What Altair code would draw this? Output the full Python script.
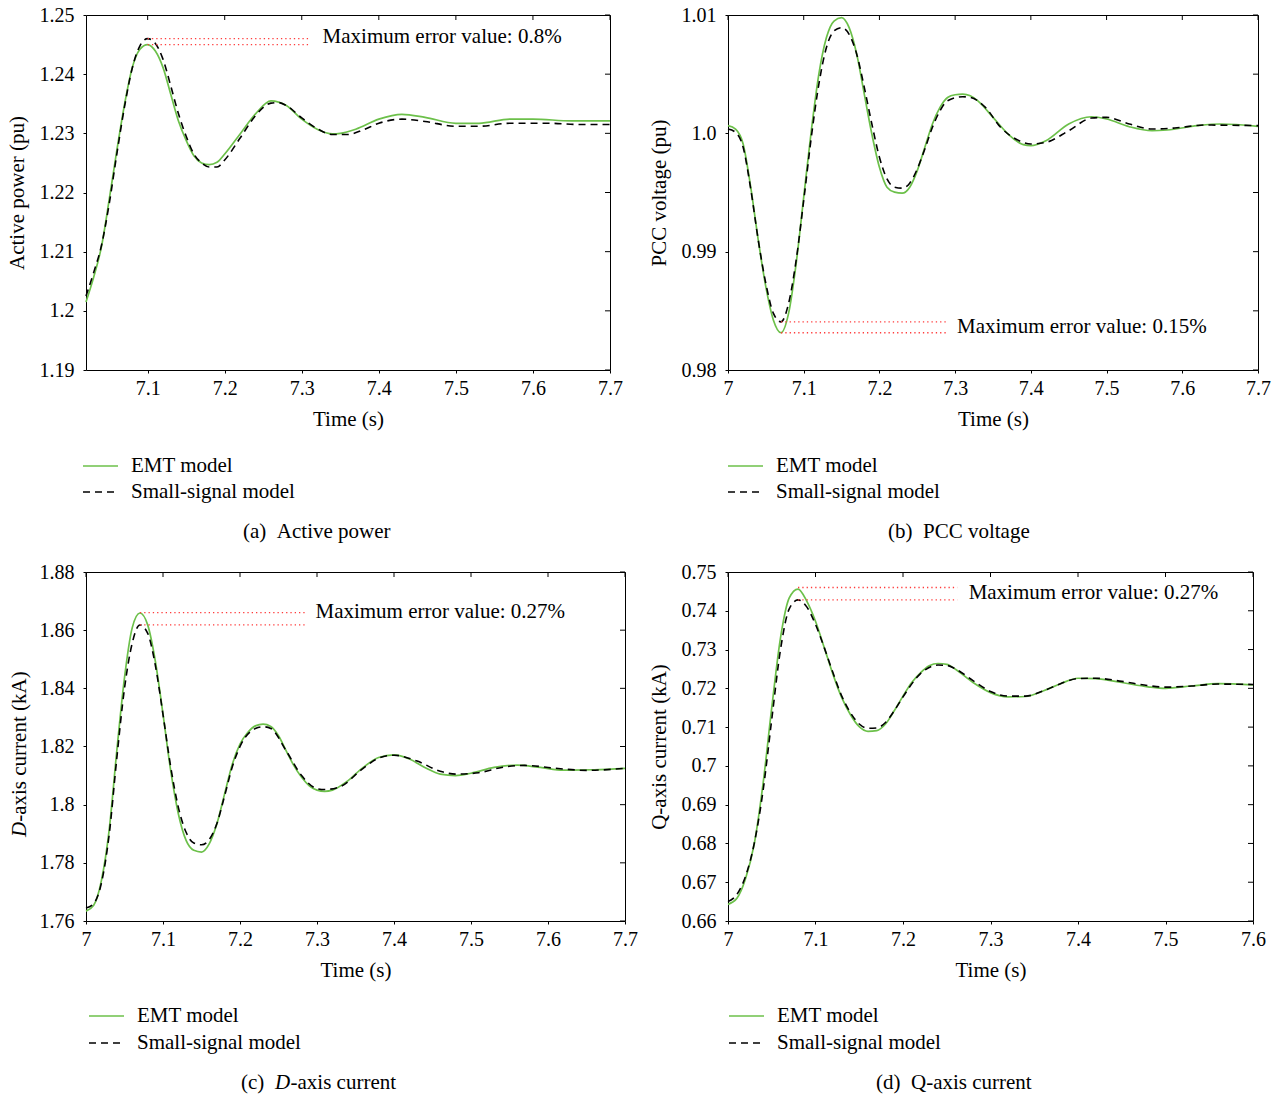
import altair as alt
import pandas as pd

FONT = "Liberation Serif"
GREEN = "#6cc04a"
RED = "#ff3b3b"
FS = 21      # annotation, legend, caption and axis-title size
LFS = 20     # tick label size

# ---------------- (a) Active power ----------------
a_t_emt = [7.02, 7.03, 7.04, 7.05, 7.06, 7.07, 7.08, 7.09, 7.10, 7.11, 7.12, 7.13, 7.14, 7.15, 7.16,
           7.17, 7.18, 7.19, 7.20, 7.22, 7.24, 7.26, 7.28, 7.30, 7.32, 7.34, 7.35, 7.37, 7.40, 7.43,
           7.46, 7.50, 7.53, 7.57, 7.60, 7.65, 7.70]
a_v_emt = [1.2015, 1.2057, 1.2108, 1.2187, 1.2271, 1.2349, 1.2411, 1.2442, 1.2450, 1.2439, 1.2411,
           1.2366, 1.2321, 1.2288, 1.2262, 1.2250, 1.2247, 1.2251, 1.2265, 1.2299, 1.2333, 1.2355,
           1.2347, 1.2324, 1.2307, 1.2299, 1.2300, 1.2307, 1.2324, 1.2332, 1.2327, 1.2317, 1.2317,
           1.2324, 1.2324, 1.2321, 1.2321]
a_t_ss = [7.02, 7.03, 7.04, 7.05, 7.06, 7.07, 7.08, 7.09, 7.10, 7.11, 7.12, 7.13, 7.14, 7.15, 7.16,
          7.17, 7.18, 7.19, 7.20, 7.22, 7.24, 7.26, 7.27, 7.28, 7.30, 7.32, 7.34, 7.36, 7.38, 7.40,
          7.43, 7.46, 7.50, 7.53, 7.57, 7.62, 7.66, 7.70]
a_v_ss = [1.2025, 1.2065, 1.2110, 1.2180, 1.2265, 1.2345, 1.2410, 1.2448, 1.2460, 1.2452, 1.2425,
          1.2380, 1.2333, 1.2295, 1.2265, 1.2250, 1.2243, 1.2243, 1.2255, 1.2292, 1.2330, 1.2351,
          1.2352, 1.2347, 1.2326, 1.2308, 1.2298, 1.2298, 1.2306, 1.2317, 1.2324, 1.2320, 1.2312,
          1.2312, 1.2317, 1.2317, 1.2315, 1.2315]
a_xticks = [7.1, 7.2, 7.3, 7.4, 7.5, 7.6, 7.7]
a_yticks = [1.19, 1.2, 1.21, 1.22, 1.23, 1.24, 1.25]

# ---------------- (b) PCC voltage ----------------
b_t_emt = [7.00, 7.01, 7.02, 7.03, 7.04, 7.05, 7.06, 7.07, 7.08, 7.09, 7.10, 7.11, 7.12, 7.13, 7.14,
           7.15, 7.16, 7.17, 7.18, 7.19, 7.20, 7.21, 7.22, 7.23, 7.24, 7.25, 7.26, 7.27, 7.28, 7.29,
           7.30, 7.31, 7.32, 7.33, 7.35, 7.37, 7.39, 7.40, 7.42, 7.45, 7.48, 7.50, 7.53, 7.56, 7.58,
           7.62, 7.65, 7.70]
b_v_emt = [1.00065, 1.00036, 0.99910, 0.99545, 0.99096, 0.98702, 0.98421, 0.98315, 0.98478, 0.98899,
           0.99461, 1.00022, 1.00500, 1.00809, 1.00949, 1.00978, 1.00893, 1.00669, 1.00331, 0.99994,
           0.99713, 0.99545, 0.99503, 0.99494, 0.99545, 0.99685, 0.99882, 1.00079, 1.00219, 1.00303,
           1.00326, 1.00331, 1.00317, 1.00275, 1.00135, 0.99994, 0.99904, 0.99896, 0.99938, 1.00079,
           1.00140, 1.00121, 1.00056, 1.00022, 1.00028, 1.00065, 1.00079, 1.00059]
b_t_ss = [7.00, 7.01, 7.02, 7.03, 7.04, 7.05, 7.06, 7.07, 7.08, 7.09, 7.10, 7.11, 7.12, 7.13, 7.14,
          7.15, 7.16, 7.17, 7.18, 7.19, 7.20, 7.21, 7.22, 7.23, 7.24, 7.25, 7.26, 7.27, 7.28, 7.29,
          7.31, 7.32, 7.34, 7.36, 7.38, 7.40, 7.42, 7.45, 7.48, 7.50, 7.53, 7.56, 7.59, 7.63, 7.70]
b_v_ss = [1.00036, 1.00008, 0.99882, 0.99531, 0.99096, 0.98730, 0.98478, 0.98407, 0.98562, 0.98927,
          0.99433, 0.99966, 1.00416, 1.00725, 1.00865, 1.00893, 1.00837, 1.00669, 1.00388, 1.00079,
          0.99798, 0.99615, 0.99545, 0.99537, 0.99579, 0.99699, 0.99868, 1.00051, 1.00191, 1.00275,
          1.00309, 1.00303, 1.00219, 1.00051, 0.99952, 0.99910, 0.99924, 1.00022, 1.00129, 1.00135,
          1.00079, 1.00036, 1.00045, 1.00070, 1.00065]
b_xticks = [7.0, 7.1, 7.2, 7.3, 7.4, 7.5, 7.6, 7.7]
b_ylabels = [0.98, 0.99, 1.0, 1.01]
b_yticks = [0.98, 0.985, 0.99, 0.995, 1.0, 1.005, 1.01]

# ---------------- (c) D-axis current ----------------
c_t_emt = [7.00, 7.01, 7.02, 7.03, 7.04, 7.05, 7.06, 7.07, 7.08, 7.09, 7.10, 7.11, 7.12, 7.13, 7.14,
           7.15, 7.16, 7.17, 7.18, 7.19, 7.20, 7.21, 7.22, 7.23, 7.24, 7.25, 7.26, 7.27, 7.28, 7.29,
           7.30, 7.31, 7.32, 7.34, 7.36, 7.38, 7.40, 7.42, 7.44, 7.46, 7.48, 7.50, 7.53, 7.56, 7.59,
           7.62, 7.66, 7.70]
c_v_emt = [1.7634, 1.7654, 1.7739, 1.7911, 1.8185, 1.8437, 1.8608, 1.8659, 1.8619, 1.8494, 1.8311,
           1.8117, 1.7968, 1.7877, 1.7843, 1.7837, 1.7865, 1.7934, 1.8037, 1.8139, 1.8208, 1.8248,
           1.8271, 1.8277, 1.8269, 1.8237, 1.8185, 1.8134, 1.8094, 1.8065, 1.8050, 1.8046, 1.8050,
           1.8082, 1.8128, 1.8162, 1.8171, 1.8157, 1.8128, 1.8105, 1.8100, 1.8108, 1.8128, 1.8136,
           1.8128, 1.8119, 1.8120, 1.8125]
c_t_ss = [7.00, 7.01, 7.02, 7.03, 7.04, 7.05, 7.06, 7.07, 7.08, 7.09, 7.10, 7.11, 7.12, 7.13, 7.14,
          7.15, 7.16, 7.17, 7.18, 7.19, 7.20, 7.22, 7.23, 7.24, 7.26, 7.28, 7.30, 7.31, 7.33, 7.36,
          7.38, 7.40, 7.43, 7.46, 7.48, 7.51, 7.54, 7.57, 7.61, 7.65, 7.70]
c_v_ss = [1.7645, 1.7660, 1.7730, 1.7895, 1.8160, 1.8400, 1.8555, 1.8618, 1.8590, 1.8480, 1.8310,
          1.8130, 1.7990, 1.7905, 1.7868, 1.7862, 1.7880, 1.7935, 1.8030, 1.8130, 1.8200, 1.8262,
          1.8268, 1.8262, 1.8185, 1.8100, 1.8055, 1.8052, 1.8062, 1.8125, 1.8160, 1.8170, 1.8150,
          1.8115, 1.8105, 1.8110, 1.8128, 1.8135, 1.8125, 1.8118, 1.8125]
c_xticks = [7.0, 7.1, 7.2, 7.3, 7.4, 7.5, 7.6, 7.7]
c_yticks = [1.76, 1.78, 1.8, 1.82, 1.84, 1.86, 1.88]

# ---------------- (d) Q-axis current ----------------
d_t_emt = [7.00, 7.01, 7.02, 7.03, 7.04, 7.05, 7.06, 7.07, 7.08, 7.09, 7.10, 7.11, 7.12, 7.13, 7.14,
           7.15, 7.16, 7.17, 7.18, 7.19, 7.20, 7.21, 7.22, 7.23, 7.24, 7.25, 7.26, 7.28, 7.30, 7.32,
           7.34, 7.36, 7.38, 7.40, 7.42, 7.45, 7.48, 7.50, 7.53, 7.56, 7.60]
d_v_emt = [0.6643, 0.6658, 0.6709, 0.6799, 0.6953, 0.7150, 0.7330, 0.7433, 0.7456, 0.7425, 0.7373,
           0.7305, 0.7236, 0.7176, 0.7132, 0.7101, 0.7089, 0.7091, 0.7108, 0.7142, 0.7180, 0.7215,
           0.7240, 0.7258, 0.7264, 0.7262, 0.7249, 0.7215, 0.7189, 0.7178, 0.7179, 0.7193, 0.7212,
           0.7226, 0.7225, 0.7215, 0.7204, 0.7200, 0.7206, 0.7212, 0.7209]
d_t_ss = [7.00, 7.01, 7.02, 7.03, 7.04, 7.05, 7.06, 7.07, 7.08, 7.09, 7.10, 7.11, 7.12, 7.13, 7.14,
          7.15, 7.16, 7.17, 7.18, 7.19, 7.20, 7.22, 7.24, 7.25, 7.26, 7.28, 7.30, 7.32, 7.34, 7.36,
          7.38, 7.40, 7.42, 7.45, 7.48, 7.50, 7.53, 7.56, 7.60]
d_v_ss = [0.6650, 0.6668, 0.6715, 0.6800, 0.6935, 0.7120, 0.7300, 0.7405, 0.7428, 0.7410, 0.7365,
          0.7305, 0.7240, 0.7180, 0.7137, 0.7108, 0.7097, 0.7098, 0.7112, 0.7142, 0.7178, 0.7238,
          0.7260, 0.7259, 0.7250, 0.7220, 0.7192, 0.7180, 0.7180, 0.7193, 0.7212, 0.7225, 0.7226,
          0.7218, 0.7207, 0.7203, 0.7206, 0.7211, 0.7210]
d_xticks = [7.0, 7.1, 7.2, 7.3, 7.4, 7.5, 7.6]
d_yticks = [0.66, 0.67, 0.68, 0.69, 0.7, 0.71, 0.72, 0.73, 0.74, 0.75]

# ---------------- annotations ----------------
a_err_y = [1.2460, 1.2450]
a_err_x = [7.10, 7.31]
a_err_text = ("Maximum error value: 0.8%", 7.327, 1.2463)
b_err_y = [0.98407, 0.98315]
b_err_x = [7.07, 7.29]
b_err_text = ("Maximum error value: 0.15%", 7.3025, 0.98363)
c_err_y = [1.8660, 1.8618]
c_err_x = [7.07, 7.285]
c_err_text = ("Maximum error value: 0.27%", 7.298, 1.8662)
d_err_y = [0.7460, 0.7428]
d_err_x = [7.08, 7.262]
d_err_text = ("Maximum error value: 0.27%", 7.275, 0.7446)

series_labels = ["EMT model", "Small-signal model"]

dummy = pd.DataFrame({"k": [0]})


def text_value(s, x, y, italic=False, angle=None, align="left"):
    kw = dict(align=align, baseline="middle", font=FONT, fontSize=FS, color="black")
    if italic:
        kw["fontStyle"] = "italic"
    if angle is not None:
        kw["angle"] = angle
    return alt.Chart(dummy).mark_text(**kw).encode(
        x=alt.value(x), y=alt.value(y), text=alt.value(s))


def panel(p):
    w, h = p["w"], p["h"]
    xs = alt.Scale(domain=p["xdom"], nice=False, zero=False)
    ys = alt.Scale(domain=p["ydom"], nice=False, zero=False)
    xaxis = alt.Axis(values=p["xticks"], format=".1~f", title="Time (s)", grid=False,
                     domain=False, tickSize=3, tickColor="black", labelFont=FONT,
                     labelFontSize=LFS, labelColor="black", labelPadding=5,
                     labelOverlap=False, labelFlush=False,
                     titleFont=FONT, titleFontSize=FS, titleFontWeight="normal",
                     titleColor="black", titlePadding=10)
    ykw = dict(values=p["ylabels"], grid=False, domain=False, tickSize=3,
               tickColor="black", labelFont=FONT, labelFontSize=LFS, labelColor="black",
               labelPadding=9, labelOverlap=False, labelFlush=False,
               titleFont=FONT, titleFontSize=FS, titleFontWeight="normal",
               titleColor="black", titlePadding=12, title=p["ytitle"])
    if "labelExpr" in p:
        ykw["labelExpr"] = p["labelExpr"]
    else:
        ykw["format"] = "~g"
    yaxis = alt.Axis(**ykw)

    emt = alt.Chart(pd.DataFrame({"t": p["t_emt"], "v": p["v_emt"]})).mark_line(
        color=GREEN, strokeWidth=1.7, interpolate="monotone").encode(
        x=alt.X("t:Q", scale=xs, axis=xaxis), y=alt.Y("v:Q", scale=ys, axis=yaxis))
    ss = alt.Chart(pd.DataFrame({"t": p["t_ss"], "v": p["v_ss"]})).mark_line(
        color="black", strokeWidth=1.6, strokeDash=[7, 5], interpolate="monotone").encode(
        x=alt.X("t:Q", scale=xs, axis=xaxis), y=alt.Y("v:Q", scale=ys, axis=yaxis))

    err = alt.Chart(pd.DataFrame({"x1": [p["err_x"][0]] * 2, "x2": [p["err_x"][1]] * 2,
                                  "y": p["err_y"]})).mark_rule(
        color=RED, strokeWidth=1.3, strokeDash=[1.3, 3]).encode(
        x=alt.X("x1:Q", scale=xs, axis=xaxis), x2="x2:Q",
        y=alt.Y("y:Q", scale=ys, axis=yaxis))
    s, tx, ty = p["err_text"]
    err_txt = alt.Chart(pd.DataFrame({"x": [tx], "y": [ty], "s": [s]})).mark_text(
        align="left", baseline="middle", font=FONT, fontSize=FS, color="black").encode(
        x=alt.X("x:Q", scale=xs, axis=xaxis), y=alt.Y("y:Q", scale=ys, axis=yaxis), text="s:N")

    top_ticks = alt.Chart(pd.DataFrame({"tick": p["xticks"]})).mark_rule(
        color="black", strokeWidth=1).encode(
        x=alt.X("tick:Q", scale=xs, axis=xaxis), y=alt.value(0), y2=alt.value(5))
    right_ticks = alt.Chart(pd.DataFrame({"tick": p["yticks"]})).mark_rule(
        color="black", strokeWidth=1).encode(
        y=alt.Y("tick:Q", scale=ys, axis=yaxis), x=alt.value(w), x2=alt.value(w - 5))

    lx, ly1, ly2, ltx = p["legend"]
    leg = [
        alt.Chart(dummy).mark_rule(color=GREEN, strokeWidth=1.6).encode(
            x=alt.value(lx), x2=alt.value(lx + 35), y=alt.value(ly1)),
        alt.Chart(dummy).mark_rule(color="black", strokeWidth=1.6, strokeDash=[7, 5]).encode(
            x=alt.value(lx), x2=alt.value(lx + 35), y=alt.value(ly2)),
        text_value(series_labels[0], ltx, ly1),
        text_value(series_labels[1], ltx, ly2),
    ]
    cap = [text_value(s_, x_, p["cap_y"], italic=it) for (s_, x_, it) in p["caption"]]
    extra = [text_value(s_, x_, y_, italic=it, angle=270) for (s_, x_, y_, it) in p.get("ytitle_parts", [])]

    return alt.layer(emt, ss, err, err_txt, top_ticks, right_ticks, *leg, *cap, *extra).properties(
        width=w, height=h)


NB = "\u00a0"
panels = [
    dict(w=524, h=355, xdom=[7.02, 7.7], ydom=[1.19, 1.25], xticks=a_xticks, ylabels=a_yticks,
         yticks=a_yticks, ytitle="Active power (pu)", t_emt=a_t_emt, v_emt=a_v_emt,
         t_ss=a_t_ss, v_ss=a_v_ss, err_x=a_err_x, err_y=a_err_y, err_text=a_err_text,
         legend=(-3, 451, 477, 45), cap_y=517,
         caption=[("(a)" + NB + NB + "Active power", 157, False)]),
    dict(w=530, h=355, xdom=[7.0, 7.7], ydom=[0.98, 1.01], xticks=b_xticks, ylabels=b_ylabels,
         yticks=b_yticks, ytitle="PCC voltage (pu)",
         labelExpr="datum.value == 1 ? '1.0' : format(datum.value, '.2f')",
         t_emt=b_t_emt, v_emt=b_v_emt, t_ss=b_t_ss, v_ss=b_v_ss,
         err_x=b_err_x, err_y=b_err_y, err_text=b_err_text,
         legend=(0, 451, 477, 48), cap_y=517,
         caption=[("(b)" + NB + NB + "PCC voltage", 160, False)]),
    dict(w=539, h=349, xdom=[7.0, 7.7], ydom=[1.76, 1.88], xticks=c_xticks, ylabels=c_yticks,
         yticks=c_yticks, ytitle=None, t_emt=c_t_emt, v_emt=c_v_emt,
         t_ss=c_t_ss, v_ss=c_v_ss, err_x=c_err_x, err_y=c_err_y, err_text=c_err_text,
         legend=(3, 444, 471, 51), cap_y=511,
         caption=[("(c)" + NB + NB, 155, False), ("D", 189, True), ("-axis current", 204.5, False)],
         ytitle_parts=[("D", -66, 265, True), ("-axis current (kA)", -66, 249.8, False)]),
    dict(w=525, h=349, xdom=[7.0, 7.6], ydom=[0.66, 0.75], xticks=d_xticks, ylabels=d_yticks,
         yticks=d_yticks, ytitle="Q-axis current (kA)", t_emt=d_t_emt, v_emt=d_v_emt,
         t_ss=d_t_ss, v_ss=d_v_ss, err_x=d_err_x, err_y=d_err_y, err_text=d_err_text,
         legend=(1, 444, 471, 49), cap_y=511,
         caption=[("(d)" + NB + NB + "Q-axis current", 148, False)]),
]

charts = [panel(p) for p in panels]

chart = alt.concat(*charts, columns=2, spacing={"row": 202, "column": 103}, bounds="flush").properties(
    padding={"left": 5, "top": 4, "right": 5, "bottom": 5}, background="white"
).configure_view(stroke="black", strokeWidth=1)

chart.save("out.html", embed_options={"renderer": "svg", "actions": False})
